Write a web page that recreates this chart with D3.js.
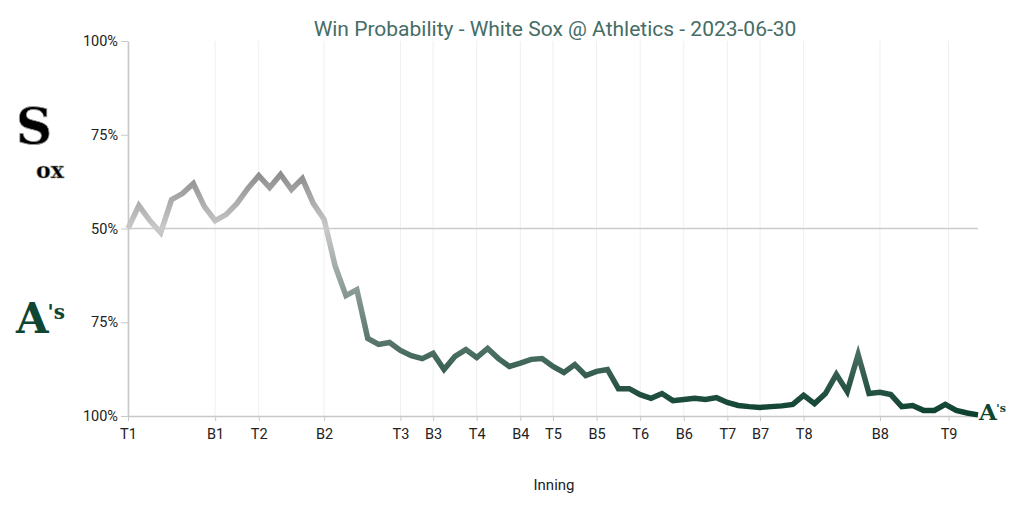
<!DOCTYPE html>
<html>
<head>
<meta charset="utf-8">
<script src="https://cdn.jsdelivr.net/npm/d3@7"></script>
<style>
  body { margin: 0; background: #fff; }
</style>
</head>
<body>
<div id="chart"></div>
<script>
// White Sox win probability (%) after each play
let soxWinProb = [50, 56.1, 52.1, 48.9, 57.7, 59.3, 62, 55.9, 52.1, 53.7,
  56.7, 60.7, 64.1, 60.9, 64.4, 60.4, 63.3, 56.7, 52.4, 40.1,
  32.1, 33.7, 20.7, 19.1, 19.6, 17.5, 16.1, 15.3, 16.7, 12.4,
  15.9, 17.7, 15.6, 18, 15.3, 13.2, 14.1, 15.1, 15.3, 13.2,
  11.6, 13.7, 10.8, 11.9, 12.4, 7.3, 7.3, 5.7, 4.7, 6,
  4.1, 4.4, 4.7, 4.4, 4.9, 3.6, 2.8, 2.5, 2.3, 2.5,
  2.7, 3.1, 5.5, 3.3, 6, 11.1, 6.5, 16.4, 6, 6.3,
  5.7, 2.5, 2.8, 1.5, 1.5, 3.1, 1.5, 0.8, 0.3];

let inningLabels = ["T1", "B1", "T2", "B2", "T3", "B3", "T4", "B4", "T5",
  "B5", "T6", "B6", "T7", "B7", "T8", "B8", "T9"];
let inningStart = [0, 8, 12, 18, 25, 28, 32, 36, 39, 43, 47, 51, 55, 58, 62, 69, 75.3];

let yTicks = [0, 25, 50, 75, 100];
let yTickLabels = ["100%", "75%", "50%", "75%", "100%"];

let svgWidth = 1024;
let svgHeight = 512;
let margin = { top: 41, right: 46, bottom: 96, left: 128 };
let width = svgWidth - margin.left - margin.right;
let height = svgHeight - margin.top - margin.bottom;

let svg = d3.select("#chart")
  .append("svg")
  .attr("width", svgWidth)
  .attr("height", svgHeight)
  .style("font-family", "Roboto, sans-serif");

let xScale = d3.scaleLinear()
  .domain([0, soxWinProb.length - 1])
  .range([0, width]);

let yScale = d3.scaleLinear()
  .domain([0, 100])
  .range([height, 0]);

let chartGroup = svg.append("g")
  .attr("transform", `translate(${margin.left}, ${margin.top})`);

// vertical gridlines at each half-inning
chartGroup.append("g")
  .selectAll("line")
  .data(inningStart)
  .enter()
  .append("line")
  .attr("x1", d => xScale(d))
  .attr("x2", d => xScale(d))
  .attr("y1", 0)
  .attr("y2", height)
  .attr("stroke", "#efefef")
  .attr("stroke-width", 1);

// 50% line
chartGroup.append("line")
  .attr("x1", 0)
  .attr("x2", width)
  .attr("y1", yScale(50))
  .attr("y2", yScale(50))
  .attr("stroke", "#cccccc")
  .attr("stroke-width", 1.5);

let bottomAxis = d3.axisBottom(xScale)
  .tickValues(inningStart)
  .tickFormat((d, i) => inningLabels[i])
  .tickSize(5)
  .tickSizeOuter(0);

let leftAxis = d3.axisLeft(yScale)
  .tickValues(yTicks)
  .tickFormat((d, i) => yTickLabels[i])
  .tickSize(7)
  .tickSizeOuter(0);

let xAxisG = chartGroup.append("g")
  .attr("transform", `translate(0, ${height})`)
  .call(bottomAxis);

let yAxisG = chartGroup.append("g")
  .call(leftAxis);

[xAxisG, yAxisG].forEach(g => {
  g.select(".domain").attr("stroke", "#c8c8c8").attr("stroke-width", 1.5);
  g.selectAll(".tick line").attr("stroke", "#c8c8c8");
  g.selectAll(".tick text")
    .attr("font-family", "Roboto, sans-serif")
    .attr("font-size", 14.5)
    .attr("fill", "#222");
});
xAxisG.selectAll(".tick text").attr("dy", "1.05em");
yAxisG.selectAll(".tick text").attr("x", -10);

// colour runs from Sox black at the top through grey to A's green at the bottom
let defs = svg.append("defs");
let grad = defs.append("linearGradient")
  .attr("id", "wpGrad")
  .attr("gradientUnits", "userSpaceOnUse")
  .attr("x1", 0).attr("x2", 0)
  .attr("y1", yScale(100)).attr("y2", yScale(0));
grad.append("stop").attr("offset", "0%").attr("stop-color", "#000000");
grad.append("stop").attr("offset", "50%").attr("stop-color", "#c9c9c9");
grad.append("stop").attr("offset", "100%").attr("stop-color", "#0b3f2e");

let line = d3.line()
  .x((d, i) => xScale(i))
  .y(d => yScale(d));

chartGroup.append("path")
  .datum(soxWinProb)
  .attr("d", line)
  .attr("fill", "none")
  .attr("stroke", "url(#wpGrad)")
  .attr("stroke-width", 5.5)
  .attr("stroke-linejoin", "miter");

// title
svg.append("text")
  .attr("x", 555)
  .attr("y", 36)
  .attr("text-anchor", "middle")
  .attr("font-size", 21)
  .attr("fill", "#456d66")
  .text("Win Probability - White Sox @ Athletics - 2023-06-30");

svg.append("text")
  .attr("x", 554)
  .attr("y", 490)
  .attr("text-anchor", "middle")
  .attr("font-size", 15)
  .attr("fill", "#222")
  .text("Inning");

// team marks (text stand-ins for logos)
svg.append("text")
  .attr("x", 16).attr("y", 144)
  .style("font-family", "'DejaVu Serif', serif")
  .attr("font-weight", "bold")
  .attr("font-size", 50)
  .attr("fill", "#000")
  .attr("stroke", "#999")
  .attr("stroke-width", 0.8)
  .text("S");
svg.append("text")
  .attr("x", 36).attr("y", 178)
  .style("font-family", "'DejaVu Serif', serif")
  .attr("font-weight", "bold")
  .attr("font-size", 22)
  .attr("fill", "#000")
  .attr("stroke", "#999")
  .attr("stroke-width", 0.6)
  .text("ox");

function athletics(x, y, s) {
  let t = svg.append("text")
    .attr("x", x).attr("y", y)
    .style("font-family", "'DejaVu Serif', serif")
    .attr("font-weight", "bold")
    .attr("fill", "#0f4633");
  t.append("tspan").attr("font-size", 42 * s).text("A");
  t.append("tspan").attr("font-size", 20 * s).attr("dx", -1 * s).attr("dy", -14 * s).text("'s");
}
athletics(16, 333, 1);
athletics(979, 420, 0.55);
</script>
</body>
</html>
